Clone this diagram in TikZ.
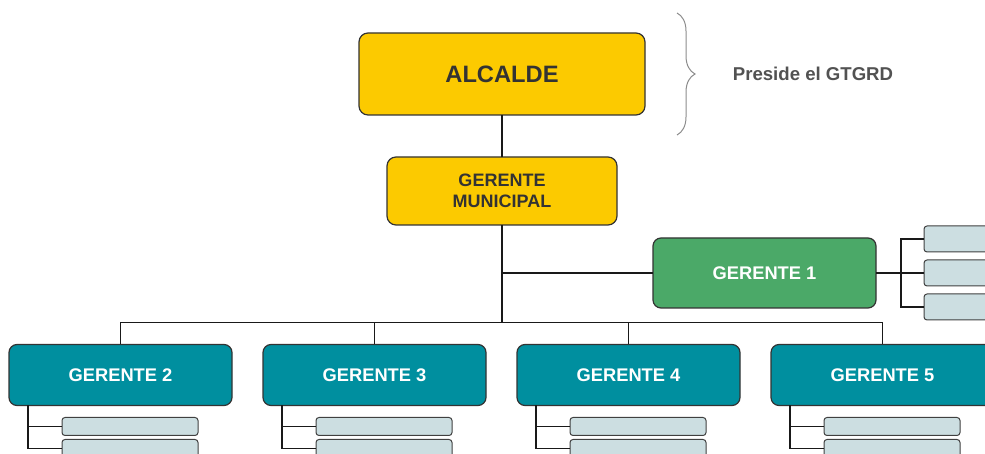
\documentclass[tikz,border=0pt]{standalone}
\usepackage{fontspec}
\setmainfont{Liberation Sans}
\usepackage{xcolor}
\usetikzlibrary{positioning, decorations.pathreplacing}

\definecolor{mayoryellow}{HTML}{FCCA00}
\definecolor{managergreen}{HTML}{4BA968}
\definecolor{managerteal}{HTML}{008F9F}
\definecolor{slotblue}{HTML}{CCDEE1}
\definecolor{darktext}{HTML}{333333}
\definecolor{bracegray}{HTML}{8C8C8C}

\begin{document}
\begin{tikzpicture}[
        x=1pt, y=1pt,
        % Styles
        head/.style={
            rectangle,
            draw=black!80,
            line width=1.2pt,
            fill=mayoryellow,
            text=darktext,
            align=center,
            rounded corners=9pt,
            inner sep=0pt,
            outer sep=0pt
          },
        manager/.style={
            rectangle,
            draw=black!80,
            line width=1.2pt,
            text=white,
            align=center,
            rounded corners=8pt,
            minimum width=223pt,
            inner sep=0pt,
            outer sep=0pt,
            font=\fontsize{18.3}{21}\selectfont\bfseries
          },
        slot/.style={
            rectangle,
            draw=black!75,
            line width=1pt,
            fill=slotblue,
            rounded corners=3pt,
            minimum width=136pt,
            inner sep=0pt,
            outer sep=0pt
          },
        link/.style={
            draw=black!90,
            line width=1.8pt
          },
        brace/.style={
            draw=bracegray,
            line width=1pt,
            decorate,
            decoration={brace, amplitude=18pt}
          }
      ]
      \useasboundingbox (0,0) rectangle (985,454);

      % Nodes
      % Top
      \node[head, minimum width=286pt, minimum height=82pt,
            font=\fontsize{23.7}{26}\selectfont\bfseries] (alcalde) at (502,380) {ALCALDE};
      \node[head, below=42pt of alcalde, minimum width=230pt, minimum height=68pt,
            font=\fontsize{18}{21}\selectfont\bfseries] (gm) {GERENTE\\MUNICIPAL};

      % Brace and note
      \draw[brace] (677,441) -- (677,319);
      \node[text=darktext!85, font=\fontsize{18.6}{21}\selectfont\bfseries] (note) at (813,380) {Preside el GTGRD};

      % Gerente 1 (right side)
      \node[manager, fill=managergreen, minimum height=70pt,
            below right=13pt and 36pt of gm] (g1) {GERENTE 1};
      \node[slot, minimum height=26pt, right=48pt of g1] (r2) {};
      \node[slot, minimum height=26pt, above=8pt of r2] (r1) {};
      \node[slot, minimum height=26pt, below=8pt of r2] (r3) {};

      % Gerentes 2 to 5
      \node[manager, fill=managerteal, minimum height=61pt] (g2) at (120.5,79) {GERENTE 2};
      \node[manager, fill=managerteal, minimum height=61pt, right=31pt of g2] (g3) {GERENTE 3};
      \node[manager, fill=managerteal, minimum height=61pt, right=31pt of g3] (g4) {GERENTE 4};
      \node[manager, fill=managerteal, minimum height=61pt, right=31pt of g4] (g5) {GERENTE 5};

      % Coordinates
      \coordinate (bus) at ([yshift=22pt]g2.north);
      \coordinate (tee) at (gm.south |- g1.west);
      \coordinate (g1bus) at ([xshift=25pt]g1.east);

      % Connectors
      \draw[link] (alcalde) -- (gm);
      \draw[link] (gm.south) -- (gm.south |- bus);
      \draw[link] (tee) -- (g1.west);
      \draw[link] (g2.north) -- (bus) -| (g5.north);
      \draw[link] (g3.north) -- (g3.north |- bus);
      \draw[link] (g4.north) -- (g4.north |- bus);

      % Gerente 1 slots
      \draw[link] (g1.east) -- (g1bus);
      \draw[link] (g1bus) |- (r1.west);
      \draw[link] (g1bus) |- (r3.west);
      \draw[link] (g1bus) -- (r2.west);

      % Slots under Gerentes 2 to 5
      \foreach \g in {2,...,5} {
          \node[slot, minimum height=18pt, anchor=north west] (s\g a) at ([shift={(53pt,-12pt)}]g\g.south west) {};
          \node[slot, minimum height=18pt, below=4pt of s\g a] (s\g b) {};
          \draw[link] ([xshift=19pt]g\g.south west) |- (s\g a.west);
          \draw[link] ([xshift=19pt]g\g.south west) |- (s\g b.west);
        }

    \end{tikzpicture}
\end{document}
